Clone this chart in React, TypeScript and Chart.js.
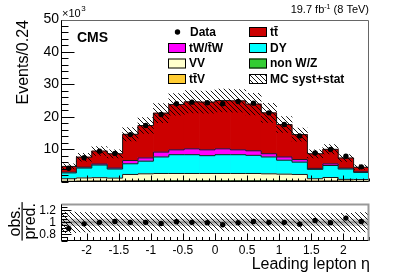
import React, { useEffect, useRef } from 'react';
import { Chart, registerables } from 'chart.js';

Chart.register(...registerables);

// ---------------- data (thousands of events per 0.24 bin) ----------------
const binEdges = [-2.4, -2.16, -1.92, -1.68, -1.44, -1.2, -0.96, -0.72, -0.48, -0.24, 0, 0.24, 0.48, 0.72, 0.96, 1.2, 1.44, 1.68, 1.92, 2.16, 2.4];
const dataObs = [4.1, 7.35, 9.4, 8.7, 14.5, 17.3, 20.7, 24.0, 24.5, 24.3, 24.0, 24.7, 24.2, 21.2, 17.6, 14.1, 8.8, 9.9, 7.8, 4.55];
const ttbar = [1.8, 3.1, 4.0, 4.4, 8.1, 10.0, 12.0, 14.0, 14.5, 14.7, 14.9, 15.1, 14.4, 12.6, 10.0, 7.7, 4.5, 4.5, 3.15, 1.4];
const tW = [0.2, 0.25, 0.3, 0.3, 1.0, 1.0, 1.5, 1.5, 1.8, 1.8, 1.8, 1.5, 1.4, 1.0, 1.0, 0.8, 0.3, 0.5, 0.25, 0.2];
const dy = [1.8, 3.05, 3.9, 2.8, 3.3, 3.9, 5.1, 5.8, 5.8, 5.5, 5.8, 5.8, 5.6, 5.2, 4.3, 3.8, 2.9, 3.7, 3.2, 2.2];
const vv = [0.8, 1.0, 1.05, 0.95, 2.0, 2.15, 2.25, 2.25, 2.25, 2.25, 2.25, 2.25, 2.25, 2.15, 2.05, 2.0, 0.75, 1.1, 0.55, 0.55];
const ttv = [0.03, 0.05, 0.06, 0.05, 0.08, 0.1, 0.1, 0.1, 0.1, 0.1, 0.1, 0.1, 0.1, 0.1, 0.1, 0.08, 0.05, 0.06, 0.05, 0.03];
const nonWZ = [0.05, 0.08, 0.1, 0.08, 0.12, 0.15, 0.15, 0.15, 0.15, 0.15, 0.15, 0.15, 0.15, 0.15, 0.15, 0.12, 0.08, 0.1, 0.08, 0.05];
const mcRelUnc = [0.17, 0.16, 0.145, 0.145, 0.14, 0.14, 0.14, 0.14, 0.14, 0.14, 0.14, 0.14, 0.14, 0.14, 0.14, 0.14, 0.145, 0.145, 0.15, 0.16];
const ratioObs = [0.9, 0.975, 1.0, 1.015, 1.0, 1.0, 0.98, 1.01, 1.0, 0.995, 0.96, 0.995, 1.015, 1.0, 1.0, 0.97, 1.03, 0.995, 1.07, 1.015];
const ratioStatUnc = [0.053, 0.053, 0.053, 0.053, 0.053, 0.053, 0.053, 0.053, 0.053, 0.053, 0.053, 0.053, 0.053, 0.053, 0.053, 0.053, 0.053, 0.053, 0.053, 0.053];

const yTicksTop = [10, 20, 30, 40, 50];
const yTicksRatio = [0.8, 1, 1.2];
const xTicks = [-2, -1.5, -1, -0.5, 0, 0.5, 1, 1.5, 2];

const layerNames = ['non W/Z', 'tt\u0304V', 'VV', 'DY', 'tW/t\u0304W', 'tt\u0304'];
const layerValues = [nonWZ, ttv, vv, dy, tW, ttbar];
const layerColors = ['#33cc33', '#ffcc33', '#ffffcc', '#00ffff', '#ff00ff', '#cc0000'];

const FONT = '"Liberation Sans", Arial, Helvetica, sans-serif';

const W = 411;
const TOP_H = 192;
const RAT_H = 87;

function makeHatch(): CanvasPattern | string {
  const s = 5;
  const c = document.createElement('canvas');
  c.width = s;
  c.height = s;
  const g = c.getContext('2d');
  if (!g) return 'rgba(0,0,0,0.3)';
  g.strokeStyle = '#000';
  g.lineWidth = 0.9;
  g.beginPath();
  g.moveTo(0, 0);
  g.lineTo(s, s);
  g.moveTo(-1, s - 1);
  g.lineTo(1, s + 1);
  g.moveTo(s - 1, -1);
  g.lineTo(s + 1, 1);
  g.stroke();
  const p = g.createPattern(c, 'repeat');
  return p || 'rgba(0,0,0,0.3)';
}

function range(a: number, b: number, step: number): number[] {
  const out: number[] = [];
  const n = Math.round((b - a) / step);
  for (let i = 0; i <= n; i++) out.push(+(a + i * step).toFixed(6));
  return out;
}

type TickCfg = {
  xMajor: number[]; xMinor: number[]; xMajLen: number; xMinLen: number;
  yMajor: number[]; yMinor: number[]; yMajLen: number; yMinLen: number;
  topColor: string; topWidth: number;
};

function ticksPlugin(cfg: TickCfg) {
  return {
    id: 'inwardTicks',
    afterDatasetsDraw(chart: any) {
      const { ctx, chartArea: a, scales } = chart;
      const xs = scales.x;
      const ys = scales.y;
      ctx.save();
      ctx.strokeStyle = '#000';
      ctx.lineWidth = 1;
      ctx.beginPath();
      const bottom = Math.round(a.bottom) - 0.5;
      const left = Math.round(a.left) + 0.5;
      for (const v of cfg.xMajor) {
        const px = Math.round(xs.getPixelForValue(v)) + 0.5;
        ctx.moveTo(px, bottom);
        ctx.lineTo(px, bottom - cfg.xMajLen);
      }
      for (const v of cfg.xMinor) {
        const px = Math.round(xs.getPixelForValue(v)) + 0.5;
        ctx.moveTo(px, bottom);
        ctx.lineTo(px, bottom - cfg.xMinLen);
      }
      for (const v of cfg.yMajor) {
        const py = Math.round(ys.getPixelForValue(v)) + 0.5;
        ctx.moveTo(left, py);
        ctx.lineTo(left + cfg.yMajLen, py);
      }
      for (const v of cfg.yMinor) {
        const py = Math.round(ys.getPixelForValue(v)) + 0.5;
        ctx.moveTo(left, py);
        ctx.lineTo(left + cfg.yMinLen, py);
      }
      ctx.stroke();
      // frame
      const right = Math.round(a.right) - 0.5;
      const top = Math.round(a.top) + 0.5;
      ctx.strokeStyle = cfg.topColor;
      ctx.lineWidth = cfg.topWidth;
      ctx.beginPath();
      ctx.moveTo(left, top);
      ctx.lineTo(right, top);
      ctx.lineTo(right, bottom);
      ctx.stroke();
      ctx.strokeStyle = '#000';
      ctx.lineWidth = 1;
      ctx.beginPath();
      ctx.moveTo(left, top);
      ctx.lineTo(left, bottom);
      ctx.lineTo(right, bottom);
      ctx.stroke();
      ctx.restore();
    },
  };
}

function topTextPlugin(hatch: CanvasPattern | string) {
  return {
    id: 'topText',
    afterDraw(chart: any) {
      const ctx: CanvasRenderingContext2D = chart.ctx;
      ctx.save();
      ctx.fillStyle = '#000';
      ctx.textBaseline = 'alphabetic';
      // x10^3
      ctx.font = `11px ${FONT}`;
      ctx.textAlign = 'left';
      ctx.fillText('\u00d710', 62, 17);
      const w10 = ctx.measureText('\u00d710').width;
      ctx.font = `8px ${FONT}`;
      ctx.fillText('3', 62 + w10 + 0.5, 11);
      // lumi text
      const p1 = '19.7 fb';
      const p2 = '-1';
      const p3 = ' (8 TeV)';
      ctx.font = `11px ${FONT}`;
      const w1 = ctx.measureText(p1).width;
      const w3 = ctx.measureText(p3).width;
      ctx.font = `7px ${FONT}`;
      const w2 = ctx.measureText(p2).width;
      let x = 369 - (w1 + w2 + w3);
      ctx.font = `11px ${FONT}`;
      ctx.fillText(p1, x, 13);
      x += w1;
      ctx.font = `7px ${FONT}`;
      ctx.fillText(p2, x, 8.5);
      x += w2;
      ctx.font = `11px ${FONT}`;
      ctx.fillText(p3, x, 13);
      // CMS
      ctx.font = `bold 14px ${FONT}`;
      ctx.fillText('CMS', 77, 42);
      // y title
      ctx.save();
      ctx.font = `16px ${FONT}`;
      ctx.translate(28, 20);
      ctx.rotate(-Math.PI / 2);
      ctx.textAlign = 'right';
      ctx.fillText('Events/0.24', 0, 0);
      ctx.restore();
      // legend
      const rows = [32, 48, 63.5, 79];
      ctx.font = `bold 12px ${FONT}`;
      ctx.textBaseline = 'middle';
      ctx.textAlign = 'left';
      ctx.beginPath();
      ctx.arc(177.5, rows[0], 2.7, 0, Math.PI * 2);
      ctx.fill();
      ctx.fillText('Data', 190, rows[0] + 0.5);
      const swatch = (sx: number, sy: number, fill: any, label: string) => {
        ctx.fillStyle = fill;
        ctx.fillRect(sx, sy - 5, 18, 10);
        ctx.strokeStyle = '#000';
        ctx.lineWidth = 1;
        ctx.strokeRect(sx + 0.5, sy - 5 + 0.5, 17, 9);
        ctx.fillStyle = '#000';
        ctx.fillText(label, sx + 21, sy + 0.5);
      };
      swatch(168, rows[1], layerColors[4], layerNames[4]);
      swatch(168, rows[2], layerColors[2], layerNames[2]);
      swatch(168, rows[3], layerColors[1], layerNames[1]);
      swatch(249, rows[0], layerColors[5], layerNames[5]);
      swatch(249, rows[1], layerColors[3], layerNames[3]);
      swatch(249, rows[2], layerColors[0], layerNames[0]);
      ctx.fillStyle = '#fff';
      ctx.fillRect(249, rows[3] - 5, 18, 10);
      swatch(249, rows[3], hatch, 'MC syst+stat');
      ctx.restore();
    },
  };
}

function ratioTextPlugin() {
  return {
    id: 'ratioText',
    afterDraw(chart: any) {
      const ctx: CanvasRenderingContext2D = chart.ctx;
      const a = chart.chartArea;
      ctx.save();
      ctx.fillStyle = '#000';
      ctx.font = `16px ${FONT}`;
      ctx.textAlign = 'right';
      ctx.textBaseline = 'alphabetic';
      ctx.fillText('Leading lepton \u03b7', 370, 77);
      // obs./pred.
      const cy = (a.top + a.bottom) / 2 - 1;
      ctx.font = `16px ${FONT}`;
      ctx.translate(0, cy);
      ctx.rotate(-Math.PI / 2);
      ctx.textAlign = 'center';
      const wPred = ctx.measureText('pred.').width;
      ctx.fillText('obs.', 0, 20);
      ctx.fillText('pred.', 0, 35);
      ctx.fillRect(-wPred / 2 - 1, 21.5, wPred + 2, 1.2);
      ctx.restore();
    },
  };
}

const fmt = (v: any) => String(+(+v).toFixed(2));

export default function App() {
  const topRef = useRef<HTMLCanvasElement | null>(null);
  const ratRef = useRef<HTMLCanvasElement | null>(null);

  useEffect(() => {
    if (!topRef.current || !ratRef.current) return;
    Chart.defaults.font.family = FONT;
    Chart.defaults.color = '#000';
    const hatch = makeHatch();
    const centers = binEdges.slice(0, -1).map((e, i) => (e + binEdges[i + 1]) / 2);

    // cumulative stack levels
    const cum: number[][] = [];
    layerValues.forEach((arr, k) => {
      cum.push(arr.map((v, i) => v + (k > 0 ? cum[k - 1][i] : 0)));
    });
    const total = cum[cum.length - 1];

    const topDatasets: any[] = [];
    topDatasets.push({
      type: 'scatter',
      data: centers.map((x, i) => ({ x, y: dataObs[i] })),
      pointRadius: 2.7,
      pointBackgroundColor: '#000',
      pointBorderWidth: 0,
      order: 0,
    });
    topDatasets.push({
      type: 'bar',
      data: centers.map((x, i) => ({ x, y: [total[i] * (1 - mcRelUnc[i]), total[i] * (1 + mcRelUnc[i])] })),
      backgroundColor: hatch,
      borderWidth: 0,
      grouped: false,
      barPercentage: 1,
      categoryPercentage: 1,
      order: 1,
    });
    for (let k = layerValues.length - 1; k >= 0; k--) {
      topDatasets.push({
        type: 'bar',
        data: centers.map((x, i) => ({ x, y: cum[k][i] })),
        backgroundColor: layerColors[k],
        borderWidth: 0,
        grouped: false,
        barPercentage: 1,
        categoryPercentage: 1,
        order: 10 + 2 * k + 1,
      });
      const stepPts = binEdges.map((e, i) => ({ x: e, y: cum[k][Math.min(i, cum[k].length - 1)] }));
      topDatasets.push({
        type: 'line',
        data: stepPts,
        stepped: 'before',
        borderColor: '#1a1a1a',
        borderWidth: 1,
        pointRadius: 0,
        fill: false,
        order: 10 + 2 * k,
      });
    }

    const topChart = new Chart(topRef.current, {
      type: 'bar',
      data: { datasets: topDatasets },
      options: {
        responsive: false,
        animation: false,
        events: [],
        layout: { padding: { left: 0, right: W - 369, top: 19.5, bottom: TOP_H - 188 } },
        plugins: { legend: { display: false }, tooltip: { enabled: false } },
        scales: {
          x: { type: 'linear', min: -2.4, max: 2.4, display: false, offset: false },
          y: {
            type: 'linear',
            min: 0,
            max: 50,
            grid: { display: false, drawTicks: false },
            border: { display: false },
            afterBuildTicks: (s: any) => { s.ticks = yTicksTop.map((v) => ({ value: v })); },
            afterFit: (s: any) => { s.width = 61; },
            ticks: { font: { size: 14 }, padding: 2, color: '#000', callback: fmt },
          },
        },
      } as any,
      plugins: [
        ticksPlugin({
          xMajor: xTicks, xMinor: range(-2.4, 2.4, 0.1), xMajLen: 6, xMinLen: 3,
          yMajor: yTicksTop, yMinor: range(0, 50, 2), yMajLen: 13, yMinLen: 7,
          topColor: '#666', topWidth: 1,
        }) as any,
        topTextPlugin(hatch) as any,
      ],
    });

    const ratDatasets: any[] = [
      {
        type: 'scatter',
        data: centers.map((x, i) => ({ x, y: ratioObs[i] })),
        pointRadius: 2.7,
        pointBackgroundColor: '#000',
        pointBorderWidth: 0,
        order: 0,
      },
      {
        type: 'bar',
        data: centers.map((x, i) => ({ x, y: [1 - mcRelUnc[i], 1 + mcRelUnc[i]] })),
        backgroundColor: hatch,
        borderWidth: 0,
        grouped: false,
        barPercentage: 1,
        categoryPercentage: 1,
        order: 1,
      },
      {
        type: 'line',
        data: [{ x: -2.4, y: 1 }, { x: 2.4, y: 1 }],
        borderColor: '#999999',
        borderWidth: 2,
        pointRadius: 0,
        fill: false,
        order: 2,
      },
      {
        type: 'bar',
        data: centers.map((x, i) => ({ x, y: [1 - ratioStatUnc[i], 1 + ratioStatUnc[i]] })),
        backgroundColor: '#cccccc',
        borderWidth: 0,
        grouped: false,
        barPercentage: 1,
        categoryPercentage: 1,
        order: 3,
      },
    ];

    const ratChart = new Chart(ratRef.current, {
      type: 'bar',
      data: { datasets: ratDatasets },
      options: {
        responsive: false,
        animation: false,
        events: [],
        layout: { padding: { left: 0, right: W - 369, top: 3.5, bottom: 0 } },
        plugins: { legend: { display: false }, tooltip: { enabled: false } },
        scales: {
          x: {
            type: 'linear',
            min: -2.4,
            max: 2.4,
            offset: false,
            grid: { display: false, drawTicks: false },
            border: { display: false },
            afterBuildTicks: (s: any) => { s.ticks = xTicks.map((v) => ({ value: v })); },
            afterFit: (s: any) => { s.height = RAT_H - 48.5; },
            ticks: { font: { size: 12 }, padding: 3, maxRotation: 0, autoSkip: false, color: '#000', callback: fmt },
          },
          y: {
            type: 'linear',
            min: 0.7,
            max: 1.3,
            grid: { display: false, drawTicks: false },
            border: { display: false },
            afterBuildTicks: (s: any) => { s.ticks = yTicksRatio.map((v) => ({ value: v })); },
            afterFit: (s: any) => { s.width = 61; },
            ticks: { font: { size: 12 }, padding: 5, color: '#000', callback: fmt },
          },
        },
      } as any,
      plugins: [
        ticksPlugin({
          xMajor: xTicks, xMinor: range(-2.4, 2.4, 0.1), xMajLen: 7, xMinLen: 3.5,
          yMajor: yTicksRatio, yMinor: range(0.7, 1.3, 0.05), yMajLen: 10, yMinLen: 6,
          topColor: '#999', topWidth: 2,
        }) as any,
        ratioTextPlugin() as any,
      ],
    });

    return () => {
      topChart.destroy();
      ratChart.destroy();
    };
  }, []);

  return (
    <div style={{ position: 'absolute', left: 0, top: 0, width: W, height: TOP_H + RAT_H, background: '#fff' }}>
      <canvas ref={topRef} width={W} height={TOP_H} style={{ position: 'absolute', left: 0, top: 0, width: W, height: TOP_H }} />
      <canvas ref={ratRef} width={W} height={RAT_H} style={{ position: 'absolute', left: 0, top: TOP_H, width: W, height: RAT_H }} />
    </div>
  );
}
